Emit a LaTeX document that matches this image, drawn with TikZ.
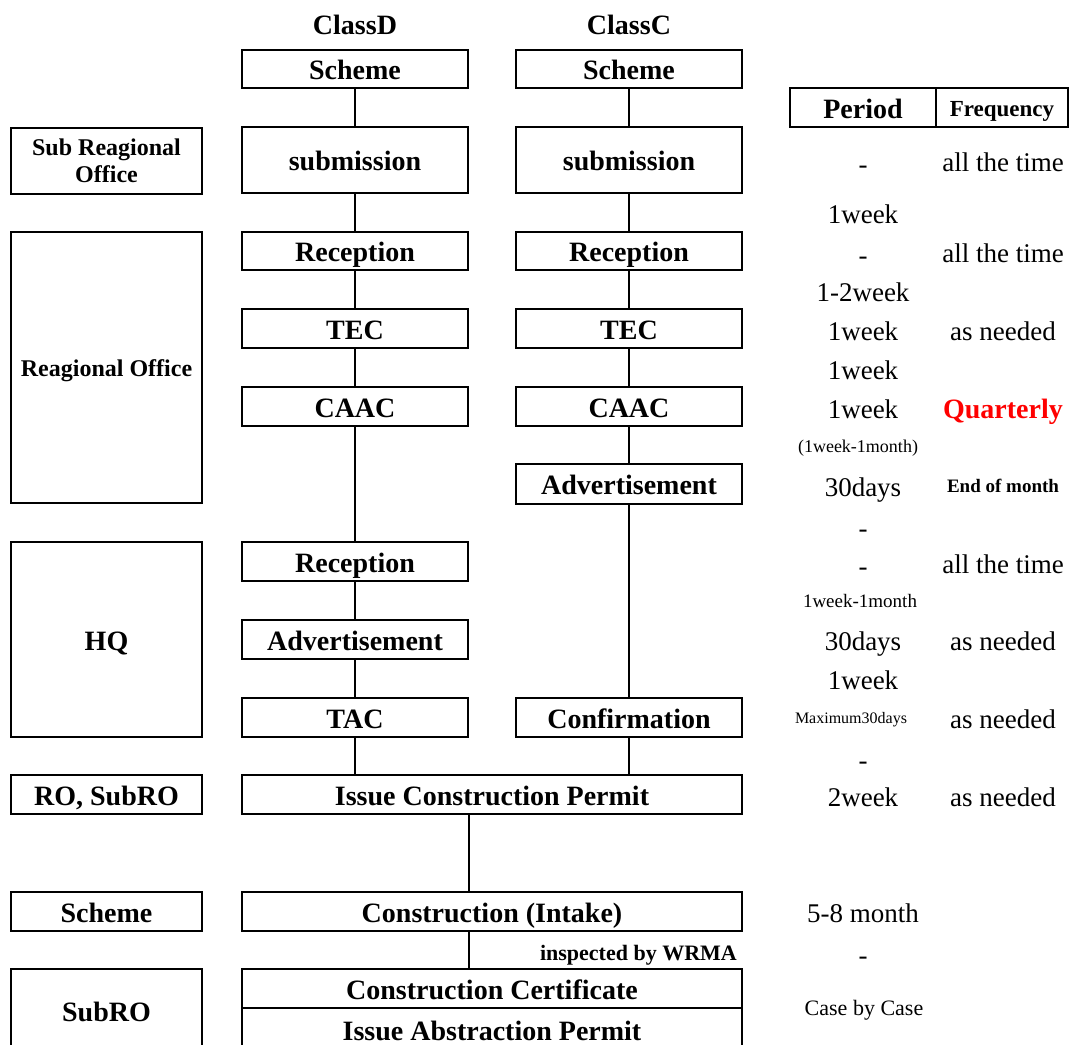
\documentclass[tikz,border=0pt]{standalone}
\usepackage{fontspec}
\setmainfont{Liberation Serif}
\begin{document}
\begin{tikzpicture}[x=1pt,y=-1pt,
  box/.style={draw, line width=2.4pt, inner sep=0pt, align=center, text height=23pt, text depth=2pt, font=\fontsize{28}{30}\selectfont\bfseries},
  dbox/.style={box, minimum width=226pt, minimum height=39pt},
  wbox/.style={box, minimum width=500pt, minimum height=39pt},
  lbox/.style={box, minimum width=191pt},
  conn/.style={line width=1.8pt},
  txt/.style={inner sep=0pt, text height=21pt, text depth=1pt, font=\fontsize{27}{29}\selectfont},
  stxt/.style={inner sep=0pt, text height=14pt, text depth=1pt},
  hdr/.style={inner sep=0pt, font=\fontsize{28}{30}\selectfont\bfseries},
]
\useasboundingbox (0,0) rectangle (1072,1045);
\clip (0,0) rectangle (1072,1045);

% headers
\node[hdr] (hD) at (355,25) {ClassD};
\node[hdr] (hC) at (629,25) {ClassC};

% Class D column
\node[dbox, minimum height=38pt] (dS) at (355,69) {Scheme};
\node[dbox, minimum height=66pt] (dSub) at (355,160) {submission};
\node[dbox, minimum height=38pt] (dRec) at (355,251) {Reception};
\node[dbox] (dTEC) at (355,328.5) {TEC};
\node[dbox] (dCAAC) at (355,406.5) {CAAC};
\node[dbox] (dRec2) at (355,561.5) {Reception};
\node[dbox] (dAdv) at (355,639.5) {Advertisement};
\node[dbox] (dTAC) at (355,717.5) {TAC};

% Class C column
\node[dbox, minimum height=38pt] (cS) at (629,69) {Scheme};
\node[dbox, minimum height=66pt] (cSub) at (629,160) {submission};
\node[dbox, minimum height=38pt] (cRec) at (629,251) {Reception};
\node[dbox] (cTEC) at (629,328.5) {TEC};
\node[dbox] (cCAAC) at (629,406.5) {CAAC};
\node[dbox, minimum height=40pt] (cAdv) at (629,484) {Advertisement};
\node[dbox] (cConf) at (629,717.5) {Confirmation};

% wide boxes
\node[wbox] (icp) at (492,794.5) {Issue Construction Permit};
\node[wbox] (constr) at (492,911.5) {Construction (Intake)};
\node[wbox] (cert) at (492,988.5) {Construction Certificate};
\node[wbox, minimum height=44pt] (abst) at (492,1030) {Issue Abstraction Permit};

% left column
\node[lbox, minimum height=66pt, text height=, text depth=, font=\fontsize{24}{27}\selectfont\bfseries] (sro) at (106.5,161) {Sub Reagional\\Office};
\node[lbox, minimum height=271pt, text height=19pt, text depth=1pt, font=\fontsize{24}{27}\selectfont\bfseries] (ro) at (106.5,367.5) {Reagional Office};
\node[lbox, minimum height=195pt] (hq) at (106.5,639.5) {HQ};
\node[lbox, minimum height=39pt] (rosub) at (106.5,794.5) {RO, SubRO};
\node[lbox, minimum height=39pt] (lsch) at (106.5,911.5) {Scheme};
\node[lbox, minimum height=83pt] (subro) at (106.5,1010.5) {SubRO};

% period / frequency table
\node[box, minimum width=146pt, minimum height=39pt] (pH) at (863,107.5) {Period};
\node[box, minimum width=132pt, minimum height=39pt, text height=18pt, text depth=1pt, font=\fontsize{23}{25}\selectfont\bfseries] (fH) at (1002,107.5) {Frequency};

% connectors class D
\draw[conn] (dS.south) -- (dSub.north);
\draw[conn] (dSub.south) -- (dRec.north);
\draw[conn] (dRec.south) -- (dTEC.north);
\draw[conn] (dTEC.south) -- (dCAAC.north);
\draw[conn] (dCAAC.south) -- (dRec2.north);
\draw[conn] (dRec2.south) -- (dAdv.north);
\draw[conn] (dAdv.south) -- (dTAC.north);
\draw[conn] (dTAC.south) -- (dTAC.south |- icp.north);
% connectors class C
\draw[conn] (cS.south) -- (cSub.north);
\draw[conn] (cSub.south) -- (cRec.north);
\draw[conn] (cRec.south) -- (cTEC.north);
\draw[conn] (cTEC.south) -- (cCAAC.north);
\draw[conn] (cCAAC.south) -- (cAdv.north);
\draw[conn] (cAdv.south) -- (cConf.north);
\draw[conn] (cConf.south) -- (cConf.south |- icp.north);
% lower connectors
\draw[conn] (icp.south -| dTAC.east) -- (constr.north -| dTAC.east);
\draw[conn] (constr.south -| dTAC.east) -- (cert.north -| dTAC.east);

\node[inner sep=0pt, anchor=east, text height=17pt, text depth=1pt, font=\fontsize{22}{24}\selectfont\bfseries] (insp) at (737,952) {inspected by WRMA};

% period column
\node[txt] (p1) at (863,163) {-};
\node[txt] (p2) at (863,213) {1week};
\node[txt] (p3) at (863,254) {-};
\node[txt] (p4) at (863,291) {1-2week};
\node[txt] (p5) at (863,330) {1week};
\node[txt] (p6) at (863,369) {1week};
\node[txt] (p7) at (863,408) {1week};
\node[stxt, font=\fontsize{18}{20}\selectfont] (p8) at (858,446) {(1week-1month)};
\node[txt] (p9) at (863,486) {30days};
\node[txt] (p10) at (863,527) {-};
\node[txt] (p11) at (863,565) {-};
\node[stxt, font=\fontsize{19}{21}\selectfont] (p12) at (860,601) {1week-1month};
\node[txt] (p13) at (863,640) {30days};
\node[txt] (p14) at (863,679) {1week};
\node[stxt, text height=12pt, font=\fontsize{16}{18}\selectfont] (p15) at (851,718) {Maximum30days};
\node[txt] (p16) at (863,759) {-};
\node[txt] (p17) at (863,796) {2week};
\node[txt] (p18) at (863,912) {5-8 month};
\node[txt] (p19) at (863,954) {-};
\node[stxt, text height=17pt, font=\fontsize{22}{24}\selectfont] (p20) at (864,1007) {Case by Case};

% frequency column
\node[txt] (f1) at (1003,161) {all the time};
\node[txt] (f2) at (1003,252) {all the time};
\node[txt] (f3) at (1003,330) {as needed};
\node[txt, text height=22pt, font=\fontsize{28}{30}\selectfont\bfseries, text=red] (f4) at (1003,408) {Quarterly};
\node[stxt, font=\fontsize{19}{21}\selectfont\bfseries] (f5) at (1003,486) {End of month};
\node[txt] (f6) at (1003,563) {all the time};
\node[txt] (f7) at (1003,640) {as needed};
\node[txt] (f8) at (1003,718) {as needed};
\node[txt] (f9) at (1003,796) {as needed};
\end{tikzpicture}
\end{document}
